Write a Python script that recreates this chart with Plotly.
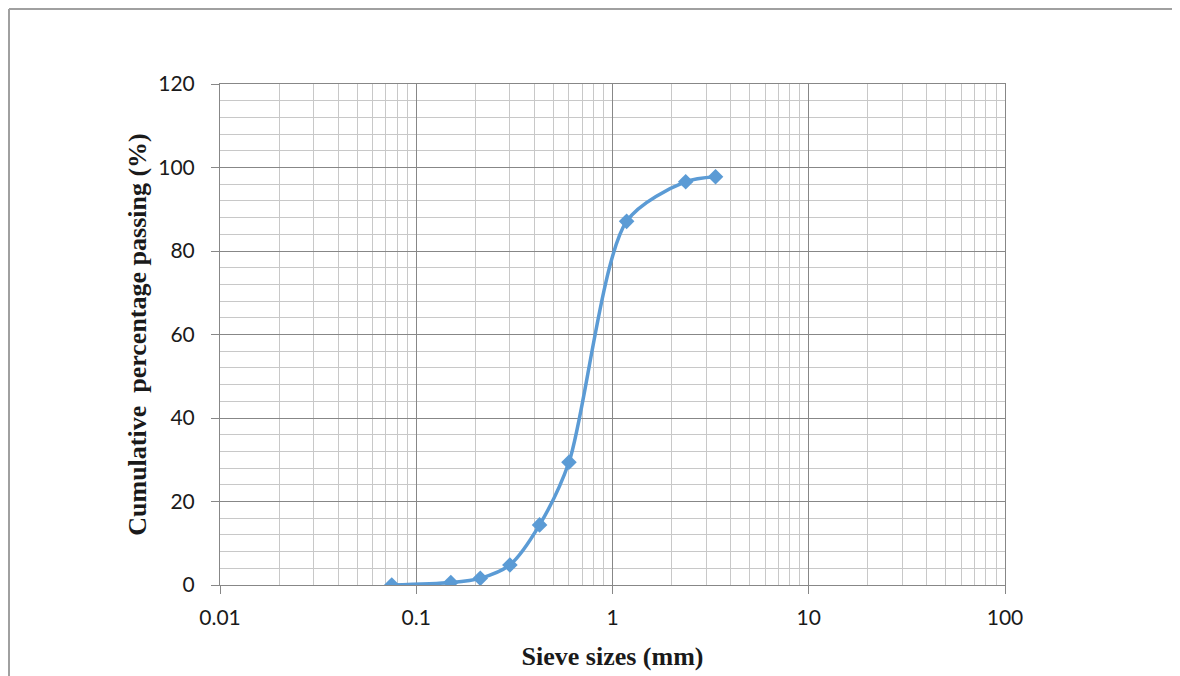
import plotly.graph_objects as go

# Data
sieve_sizes_mm = [0.075, 0.15, 0.212, 0.3, 0.425, 0.6, 1.18, 2.36, 3.35]
cum_passing_pct = [0.0, 0.6, 1.6, 4.8, 14.4, 29.4, 87.1, 96.6, 97.8]
x_tick_vals = [0.01, 0.1, 1, 10, 100]
x_tick_text = ["0.01", "0.1", "1", "10", "100"]
y_tick_vals = [0, 20, 40, 60, 80, 100, 120]

W, H = 1180, 676
OFF = 8  # page body margin
L, R, T, B = 220 - OFF, 175 + OFF, 84 - OFF, 91 + OFF
pw, ph = W - L - R, H - T - B

blue = "#5B9BD5"
major = "#878787"
minor = "#c8c8c8"

fig = go.Figure()
fig.add_trace(go.Scatter(
    x=sieve_sizes_mm, y=cum_passing_pct, mode="lines+markers",
    line=dict(color=blue, width=3.5, shape="spline", smoothing=0.8),
    marker=dict(symbol="diamond", size=12, color=blue),
    showlegend=False, hoverinfo="x+y",
))

tickfont = dict(family="Lato, Carlito, Liberation Sans, sans-serif", size=21, color="#1a1a1a")
titlefont = dict(family="Liberation Serif, Times New Roman, serif", size=26, color="#1a1a1a")

fig.update_xaxes(
    type="log", range=[-2, 2],
    tickvals=x_tick_vals, ticktext=x_tick_text,
    showgrid=True, gridcolor=major, gridwidth=1,
    minor=dict(showgrid=True, gridcolor=minor, gridwidth=1, dtick="D1", ticks=""),
    showline=True, linecolor=major, linewidth=1, mirror=True,
    ticks="outside", ticklen=8, tickcolor=major,
    tickfont=tickfont, ticklabelstandoff=6,
    zeroline=False,
    title=dict(text="<b>Sieve sizes (mm)</b>", font=titlefont, standoff=18),
)
fig.update_yaxes(
    range=[0, 120], tickvals=y_tick_vals,
    showgrid=True, gridcolor=major, gridwidth=1,
    minor=dict(showgrid=True, gridcolor=minor, gridwidth=1, dtick=4, ticks=""),
    showline=True, linecolor=major, linewidth=1, mirror=True,
    ticks="outside", ticklen=8, tickcolor=major,
    tickfont=tickfont, ticklabelstandoff=12,
    zeroline=False,
    title=dict(text="<b>Cumulative  percentage passing (%)</b>", font=titlefont, standoff=4),
)

# outer frame (left and top edges of the cropped chart area)
fx0 = (1 - L) / pw
fx1 = (W - L) / pw
fy_top = (H - B - 1) / ph
fy_bot = (H - B - H) / ph
fig.add_shape(type="line", xref="paper", yref="paper", x0=fx0, x1=fx1, y0=fy_top, y1=fy_top,
              line=dict(color="#a0a0a0", width=2))
fig.add_shape(type="line", xref="paper", yref="paper", x0=fx0, x1=fx0, y0=fy_top, y1=fy_bot,
              line=dict(color="#a0a0a0", width=2))

fig.update_layout(
    width=W, height=H,
    margin=dict(l=L, r=R, t=T, b=B),
    paper_bgcolor="white", plot_bgcolor="white",
)

fig.write_html("out.html")
